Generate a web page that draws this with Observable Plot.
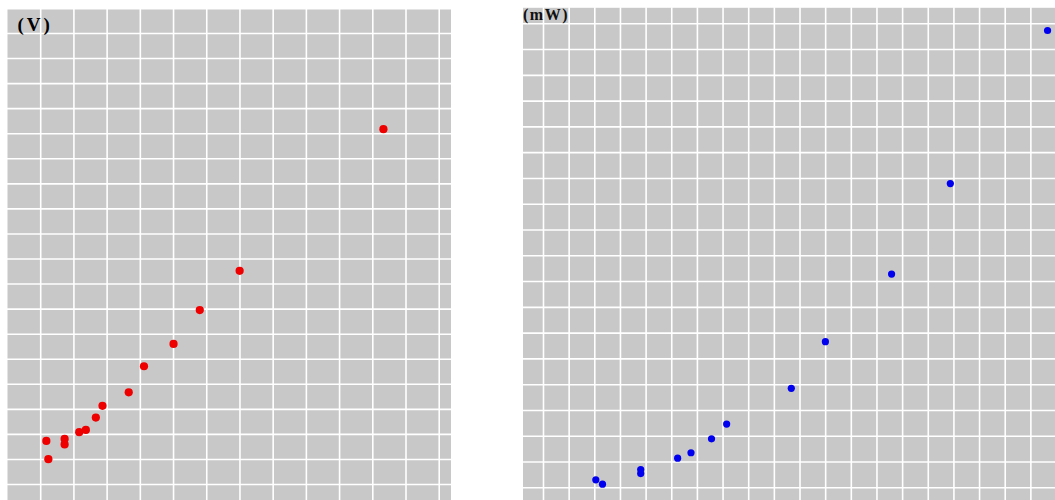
<!DOCTYPE html>
<html>
<head>
<meta charset="utf-8">
<script src="https://cdn.jsdelivr.net/npm/d3@7"></script>
<script src="https://cdn.jsdelivr.net/npm/@observablehq/plot@0.6"></script>
<style>
  html, body { margin: 0; padding: 0; background: #fff; }
  #wrap { position: relative; width: 1055px; height: 500px; overflow: hidden; }
  #left { position: absolute; left: 0; top: 0; }
  #right { position: absolute; left: 510px; top: 0; }
  #left svg text { letter-spacing: 3px; }
  #right svg text { letter-spacing: 1.5px; }
</style>
</head>
<body>
<div id="wrap"><div id="left"></div><div id="right"></div></div>
<script>
// Left panel: voltage readings (grid units)
const voltX = [1.17, 1.23, 1.72, 1.72, 2.16, 2.36, 2.66, 2.86, 3.65, 4.11, 5.00, 5.79, 6.99, 11.32];
const voltY = [2.74, 2.01, 2.82, 2.60, 3.09, 3.18, 3.67, 4.14, 4.68, 5.72, 6.61, 7.96, 9.53, 15.18];
// Right panel: power readings (grid units)
const powerX = [3.04, 3.30, 4.79, 4.79, 6.23, 6.75, 7.55, 8.14, 10.66, 11.99, 14.57, 16.86, 20.65];
const powerY = [1.31, 1.14, 1.71, 1.55, 2.15, 2.36, 2.90, 3.47, 4.86, 6.67, 9.29, 12.80, 18.74];
// Grid tick values
const leftXTicks = d3.range(1, 14);
const leftYTicks = d3.range(1, 20);
const rightXTicks = d3.range(1, 21);
const rightYTicks = d3.range(1, 20);
const unitLeft = "(V)";
const unitRight = "(mW)";

const voltData = voltX.map((x, i) => ({x, y: voltY[i]}));
const powerData = powerX.map((x, i) => ({x, y: powerY[i]}));

const gray = "#c8c8c8";
const serif = "Liberation Serif, Times New Roman, serif";

const left = Plot.plot({
  width: 451, height: 500,
  marginLeft: 7, marginRight: 0, marginTop: 9, marginBottom: 0,
  x: {domain: [0, 13.37], axis: null},
  y: {domain: [0.362, 19.958], axis: null},
  marks: [
    Plot.frame({fill: gray}),
    Plot.ruleX(leftXTicks, {stroke: "white", strokeWidth: 1.6}),
    Plot.ruleY(leftYTicks, {stroke: "white", strokeWidth: 1.6}),
    Plot.dot(voltData, {x: "x", y: "y", r: 4.1, fill: "#ee0000", stroke: "none"}),
    Plot.text([unitLeft], {frameAnchor: "top-left", textAnchor: "start", lineAnchor: "top",
      dx: 10, dy: 8, fontSize: 19, fontWeight: "bold", fontFamily: serif, fill: "#000"})
  ]
});
document.getElementById("left").appendChild(left);

const right = Plot.plot({
  width: 545, height: 500,
  marginLeft: 12.5, marginRight: 0, marginTop: 7.3, marginBottom: 0,
  x: {domain: [0.201, 20.96], axis: null},
  y: {domain: [0.507, 19.62], axis: null},
  marks: [
    Plot.frame({fill: gray}),
    Plot.ruleX(rightXTicks, {stroke: "white", strokeWidth: 1.6}),
    Plot.ruleY(rightYTicks, {stroke: "white", strokeWidth: 1.6}),
    Plot.dot(powerData, {x: "x", y: "y", r: 3.6, fill: "#0000ee", stroke: "none"}),
    Plot.text([unitRight], {frameAnchor: "top-left", textAnchor: "start", lineAnchor: "top",
      dx: 0, dy: 1, fontSize: 16, fontWeight: "bold", fontFamily: serif, fill: "#111"})
  ]
});
document.getElementById("right").appendChild(right);
</script>
</body>
</html>
